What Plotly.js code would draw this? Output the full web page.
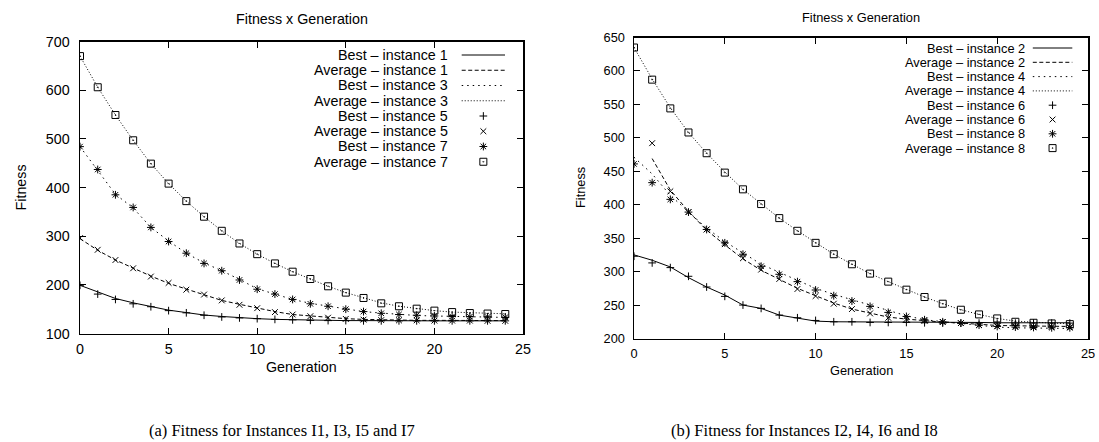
<!DOCTYPE html>
<html>
<head>
<meta charset="utf-8">
<script src="https://cdn.plot.ly/plotly-3.0.1.min.js"></script>
<style>
html,body{margin:0;padding:0;background:#fff;}
#chart{width:1099px;height:442px;}
</style>
</head>
<body>
<div id="chart"></div>
<script>
// ---------- DATA ----------
const generations = [0,1,2,3,4,5,6,7,8,9,10,11,12,13,14,15,16,17,18,19,20,21,22,23,24];

// Chart (a): instances 1, 3, 5, 7
const bestI1 = [199,185,172,163,155,148,143,138,135,132,130.5,129,128,127.5,127,126.5,126.5,126,126,126,126,126,126,126,126];
const avgI1  = [295,271,251,234,218,203,191,179,168,160,152,145,139,136,133,130.5,129,128,127.5,127,127,126.5,126.5,126.5,126.5];
const bestI3 = [484,436,386,358,318,290,265,245,229,211,192,181,170,162,156,150,145,142,139,137,136,135,134,134,133];
const avgI3  = [670,606,549,497,449,408,372,340,311,285,263,244,227,212,197,184,173,163,156,151,147,144,142.5,141,140.5];
const bestI5 = [199,181,170,161,155,147,142.5,137.5,134,132,130.5,129,128,127,126.5,126.5,126,126,126,126,126,126,126,126,126];
const avgI5  = [296,272,251,234,217,204,190,180,168,159,152,144,139,135.5,132.5,130,128.5,127.5,127,127,126.5,126.5,126.5,126,126];
const bestI7 = [484,437,385,359,318,289,265,244,229,210,191,181,170,161,156,150,145,141.5,139,137.5,136,135,134.5,134,133.5];
const avgI7  = [670,606,549,497,449,408,372,340,311,285,263,244,227,212,197,184,173,162,156,151,147,144,142,141,140];

// Chart (b): instances 2, 4, 6, 8
const bestI2 = [325,317,307,291,277,265,250,245,235,231,226,225,225,224.5,224.5,224,224,224,224,224,223.5,223.5,223.5,223.5,223.5];
const avgI2  = [null,469,422,390,362,340,319,302,288,275,264,253,244,238,232,229,226.5,224.5,223,221,219.5,219,218.5,218,218];
const bestI4 = [471,446,414,390,365,345,328,311,299,287,275,266,258,250,241,234,228,225,222,219,217,216,215.5,215,215];
const avgI4  = [635,588,545,508,477,449,423,401,380,361,343,326,311,297,285,273,262,252,243,236,230,226,224,223,222];
const bestI6 = [323,313,306,293,277,263,250,245,235,231,227,225,225,224,224,224,223.5,223,223,223,223,223,223,223,223];
const avgI6  = [null,492,420,389,363,341,320,303,289,274,263.5,252,244,237.5,231,229,226.5,224.5,223,220,218.5,218,217.5,217.5,217];
const bestI8 = [461,433,408,389,363,343,326,308,296,285,272.5,264,256,248,239,233,228,225,223,220,218,217,216.5,216,216];
const avgI8  = [635,587,544,508,477,448,423,401,380,361,343,326,311,297,285,273,262,252,243,236,230,225,223.5,222.5,221.5];

const namesA = ['Best \u2013 instance 1','Average \u2013 instance 1','Best \u2013 instance 3','Average \u2013 instance 3',
                'Best \u2013 instance 5','Average \u2013 instance 5','Best \u2013 instance 7','Average \u2013 instance 7'];
const namesB = ['Best \u2013 instance 2','Average \u2013 instance 2','Best \u2013 instance 4','Average \u2013 instance 4',
                'Best \u2013 instance 6','Average \u2013 instance 6','Best \u2013 instance 8','Average \u2013 instance 8'];
const seriesA = [bestI1, avgI1, bestI3, avgI3, bestI5, avgI5, bestI7, avgI7];
const seriesB = [bestI2, avgI2, bestI4, avgI4, bestI6, avgI6, bestI8, avgI8];

const xTickVals = [0,5,10,15,20,25];
const yTickValsA = [100,200,300,400,500,600,700];
const yTickValsB = [200,250,300,350,400,450,500,550,600,650];

const chartTitle = 'Fitness x Generation';
const xLabel = 'Generation';
const yLabel = 'Fitness';
const captionA = '(a) Fitness for Instances I1, I3, I5 and I7';
const captionB = '(b) Fitness for Instances I2, I4, I6 and I8';

// ---------- STYLE / LAYOUT ----------
const W = 1099, H = 442;
const px = x => x / W;
const py = y => 1 - y / H;
const SANS = 'Liberation Sans, Arial, Helvetica, sans-serif';
const SERIF = 'Liberation Serif, Times New Roman, serif';

const styles = [
  {mode:'lines', dash:'solid'},
  {mode:'lines', dash:'4px,2.5px'},
  {mode:'lines', dash:'1.5px,4px'},
  {mode:'lines', dash:'1px,2px'},
  {mode:'markers', symbol:'cross-thin-open', size:5.5},
  {mode:'markers', symbol:'x-thin-open', size:5.8},
  {mode:'markers', symbol:'asterisk-open', size:6.5},
  {mode:'markers', symbol:'square-open-dot', size:7}
];

const boxA = {l:80, r:523, t:41.5, b:333.5, font:14.3, legX:450, legY:55, legDy:15.25, sx0:461.7, sx1:505};
const boxB = {l:634, r:1088, t:37.5, b:338.5, font:12.8, legX:1027, legY:48, legDy:14.3, sx0:1032.8, sx1:1072.3};

const traces = [];
function addSeries(series, names, xa, ya) {
  series.forEach((vals, i) => {
    const st = styles[i];
    const t = {x: generations, y: vals, type:'scatter', mode: st.mode, name: names[i],
               xaxis: xa, yaxis: ya, showlegend:false, hoverinfo:'x+y+name', connectgaps:false};
    if (st.mode === 'lines') t.line = {color:'#000', width:1, dash: st.dash};
    else t.marker = {symbol: st.symbol, size: st.size, color:'#000', line:{color:'#000', width:1}};
    traces.push(t);
  });
}
addSeries(seriesA, namesA, 'x', 'y');
addSeries(seriesB, namesB, 'x2', 'y2');

// legend samples (gnuplot style: text right-aligned, sample on the right) on a full-page pixel axis
const annotations = [];
function addLegend(names, box) {
  names.forEach((nm, i) => {
    const yy = box.legY + i * box.legDy;
    const st = styles[i];
    const t = {type:'scatter', xaxis:'x3', yaxis:'y3', showlegend:false, hoverinfo:'skip', name: nm};
    if (st.mode === 'lines') {
      t.x = [box.sx0, box.sx1]; t.y = [yy, yy]; t.mode = 'lines';
      t.line = {color:'#000', width:1, dash: st.dash};
    } else {
      t.x = [(box.sx0 + box.sx1) / 2]; t.y = [yy]; t.mode = 'markers';
      t.marker = {symbol: st.symbol, size: st.size, color:'#000', line:{color:'#000', width:1}};
    }
    traces.push(t);
    annotations.push({xref:'paper', yref:'paper', x: px(box.legX), y: py(yy), xanchor:'right', yanchor:'middle',
                      text: nm, showarrow:false, font:{family:SANS, size:box.font, color:'#000'}});
  });
}
addLegend(namesA, boxA);
addLegend(namesB, boxB);

function txt(text, x, y, size, family, angle) {
  annotations.push({xref:'paper', yref:'paper', x: px(x), y: py(y), xanchor:'center', yanchor:'middle',
                    text: text, showarrow:false, textangle: angle || 0, font:{family: family, size: size, color:'#000'}});
}
txt(chartTitle, (boxA.l + boxA.r) / 2, 19, 14.3, SANS);
txt(chartTitle, (boxB.l + boxB.r) / 2, 17.5, 12.8, SANS);
txt(xLabel, (boxA.l + boxA.r) / 2, 367, 14.3, SANS);
txt(xLabel, (boxB.l + boxB.r) / 2, 370, 12.8, SANS);
txt(yLabel, 20, (boxA.t + boxA.b) / 2, 14.3, SANS, -90);
txt(yLabel, 580, (boxB.t + boxB.b) / 2, 12.8, SANS, -90);
txt(captionA, 282, 430, 16.5, SERIF);
txt(captionB, 804, 430, 16.5, SERIF);

function axis(domain, range, tickvals, size, anchor, standoff) {
  return {domain: domain, range: range, tickvals: tickvals, ticktext: tickvals.map(String),
          ticks:'inside', ticklen:6, tickwidth:1, tickcolor:'#000',
          showline:true, mirror:'ticks', linecolor:'#000', linewidth:1.5,
          showgrid:false, zeroline:false, anchor: anchor, ticklabelstandoff: standoff,
          tickfont:{family:SANS, size:size, color:'#000'}, fixedrange:true};
}

const layout = {
  width: W, height: H,
  margin: {l:0, r:0, t:0, b:0, pad:0},
  paper_bgcolor:'#fff', plot_bgcolor:'rgba(0,0,0,0)',
  showlegend:false,
  xaxis:  axis([px(boxA.l), px(boxA.r)], [0,25], xTickVals, boxA.font, 'y', 2),
  yaxis:  axis([py(boxA.b), py(boxA.t)], [100,700], yTickValsA, boxA.font, 'x', 6),
  xaxis2: axis([px(boxB.l), px(boxB.r)], [0,25], xTickVals, boxB.font, 'y2', 3),
  yaxis2: axis([py(boxB.b), py(boxB.t)], [200,650], yTickValsB, boxB.font, 'x2', 5),
  xaxis3: {domain:[0,1], range:[0,W], visible:false, showgrid:false, zeroline:false, fixedrange:true, anchor:'y3'},
  yaxis3: {domain:[0,1], range:[H,0], visible:false, showgrid:false, zeroline:false, fixedrange:true, anchor:'x3'},
  annotations: annotations
};

Plotly.newPlot('chart', traces, layout, {staticPlot:true, displayModeBar:false});
</script>
</body>
</html>
